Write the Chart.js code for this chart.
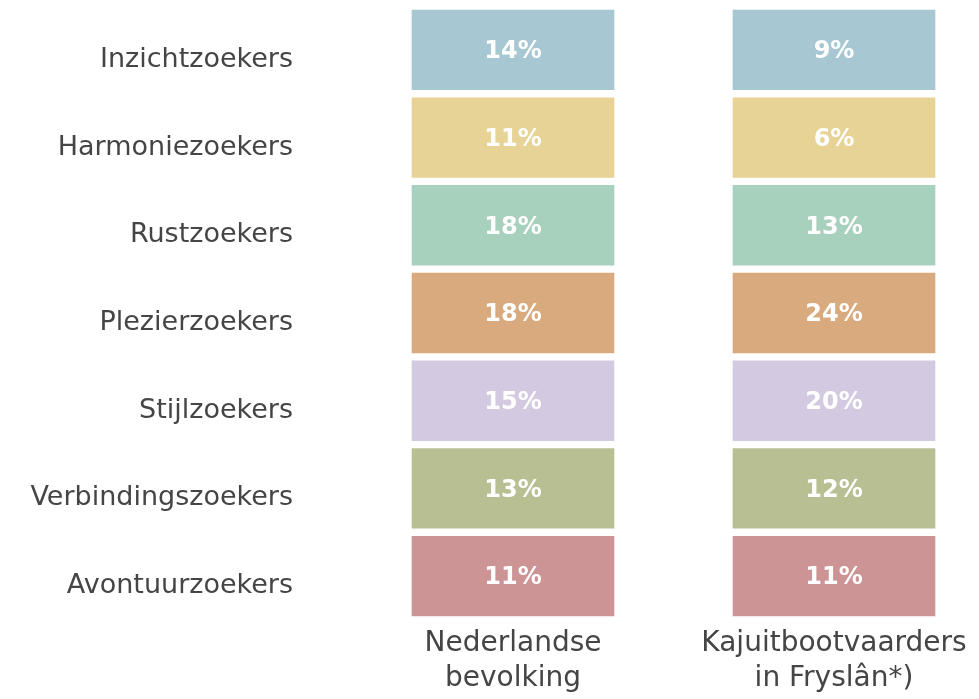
<!DOCTYPE html>
<html>
<head>
<meta charset="utf-8">
<script src="https://cdn.jsdelivr.net/npm/chart.js@4.4.0/dist/chart.umd.min.js"></script>
<style>
  html, body { margin: 0; padding: 0; background: #fff; }
  #wrap { width: 979px; height: 699px; }
</style>
</head>
<body>
<div id="wrap"><canvas id="chart" width="979" height="699"></canvas></div>
<script>
const segments = ['Inzichtzoekers', 'Harmoniezoekers', 'Rustzoekers', 'Plezierzoekers',
  'Stijlzoekers', 'Verbindingszoekers', 'Avontuurzoekers'];
const groups = [['Nederlandse', 'bevolking'], ['Kajuitbootvaarders', 'in Fryslân*)']];
const nederland = [14, 11, 18, 18, 15, 13, 11];
const kajuit = [9, 6, 13, 24, 20, 12, 11];
const colors = ['#a7c8d2', '#e7d396', '#a8d1bd', '#d8aa7d', '#d3cae2', '#b8bf93', '#cd9496'];

const textColor = '#454545';
const font = 'DejaVu Sans';

// every cell has the same height, the share is written inside it
const shares = [nederland, kajuit];
const datasets = segments.map((name, i) => ({
  label: name,
  data: groups.map((g, j) => ({ x: j, y: 1, share: shares[j][i] })),
  backgroundColor: colors[i],
  borderColor: '#ffffff',
  borderWidth: 4,
  borderSkipped: false,
  barThickness: 210
}));

const shareLabels = {
  id: 'shareLabels',
  afterDatasetsDraw(chart) {
    const { ctx } = chart;
    ctx.save();
    ctx.fillStyle = '#ffffff';
    ctx.font = `bold 24px "${font}"`;
    ctx.textAlign = 'center';
    ctx.textBaseline = 'middle';
    chart.data.datasets.forEach((ds, i) => {
      chart.getDatasetMeta(i).data.forEach((bar, j) => {
        const yMid = (bar.y + bar.base) / 2 + 2;
        ctx.fillText(ds.data[j].share + '%', bar.x, yMid);
      });
    });
    ctx.restore();
  }
};

new Chart(document.getElementById('chart'), {
  type: 'bar',
  data: { datasets },
  options: {
    responsive: false,
    animation: false,
    layout: { padding: { top: 6, bottom: 3, left: 0, right: 0 } },
    plugins: {
      legend: { display: false },
      tooltip: { enabled: false }
    },
    scales: {
      x: {
        type: 'linear',
        stacked: true,
        offset: false,
        min: -0.352,
        max: 1.4517,
        grid: { display: false, drawTicks: false, offset: false },
        border: { display: false },
        afterBuildTicks: axis => { axis.ticks = groups.map((g, j) => ({ value: j })); },
        afterFit: axis => { axis.height = 76; axis.paddingLeft = 0; axis.paddingRight = 0; },
        ticks: {
          padding: 6,
          maxRotation: 0,
          autoSkip: false,
          color: textColor,
          font: { family: font, size: 28, lineHeight: 1.25 },
          callback: (v, idx) => groups[idx]
        }
      },
      y: {
        type: 'linear',
        stacked: true,
        reverse: true,
        min: 0,
        max: segments.length,
        grid: { display: false, drawTicks: false },
        border: { display: false },
        afterBuildTicks: axis => { axis.ticks = segments.map((s, i) => ({ value: i + 0.5 })); },
        afterFit: axis => { axis.width = 400; axis.paddingTop = 0; axis.paddingBottom = 0; },
        ticks: {
          padding: 107,
          labelOffset: 10,
          autoSkip: false,
          color: textColor,
          font: { family: font, size: 27 },
          callback: (v, idx) => segments[idx]
        }
      }
    }
  },
  plugins: [shareLabels]
});
</script>
</body>
</html>
